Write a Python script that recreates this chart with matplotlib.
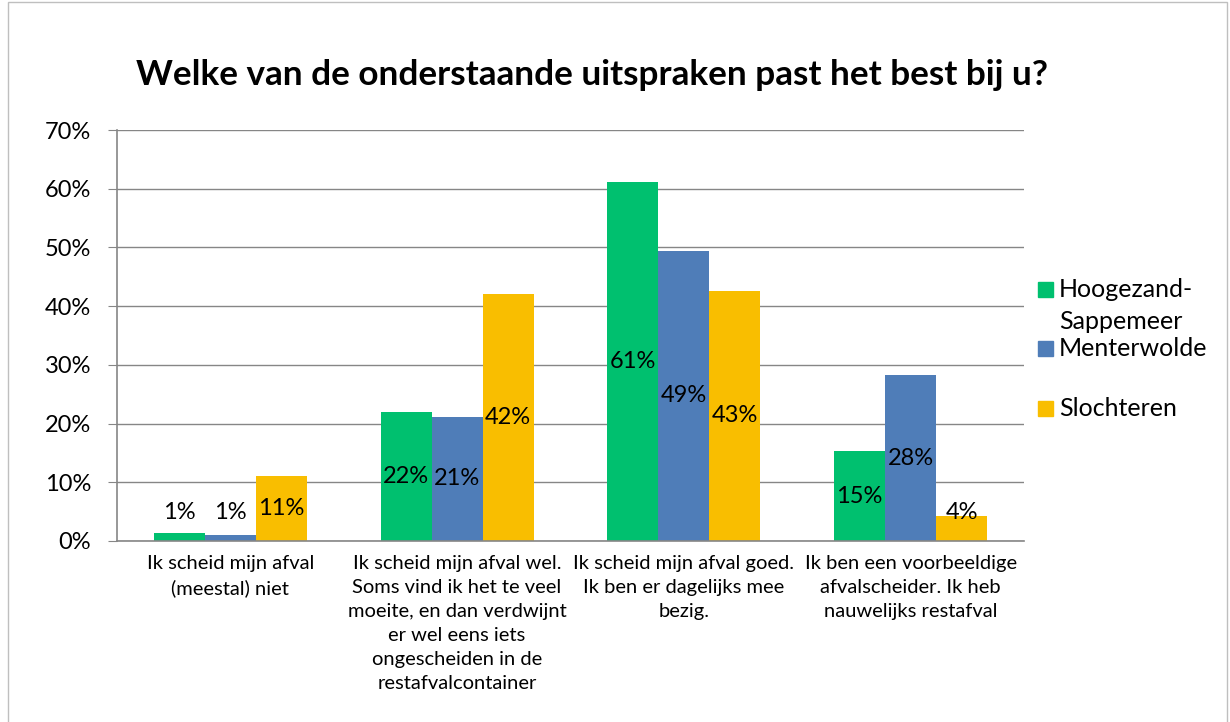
import matplotlib
matplotlib.use('Agg')
import matplotlib.pyplot as plt
import numpy as np
from matplotlib.patches import Rectangle

plt.rcParams['font.family'] = ['Lato', 'DejaVu Sans']

# ---------------------------------------------
# DATA
# ---------------------------------------------
categories = [
    'Ik scheid mijn afval\n(meestal) niet',
    'Ik scheid mijn afval wel.\nSoms vind ik het te veel\nmoeite, en dan verdwijnt\ner wel eens iets\nongescheiden in de\nrestafvalcontainer',
    'Ik scheid mijn afval goed.\nIk ben er dagelijks mee\nbezig.',
    'Ik ben een voorbeeldige\nafvalscheider. Ik heb\nnauwelijks restafval',
]
series_names = ['Hoogezand-\nSappemeer', 'Menterwolde', 'Slochteren']
hoogezand = [1.3, 22.0, 61.2, 15.3]
menterwolde = [1.1, 21.2, 49.4, 28.2]
slochteren = [11.0, 42.0, 42.6, 4.2]
y_ticks = [0, 10, 20, 30, 40, 50, 60, 70]

colors = ['#00C06F', '#4F7DB8', '#F9BE00']
series = [hoogezand, menterwolde, slochteren]

# ---------------------------------------------
# FIGURE
# ---------------------------------------------
fig = plt.figure(figsize=(12.3, 7.22), dpi=100)
ax = fig.add_axes([0.0951, 0.2507, 0.7374, 0.5692])

x = np.arange(len(categories))
w = 0.225
for i, (vals, col) in enumerate(zip(series, colors)):
    xs = x + (i - 1) * w
    ax.bar(xs, vals, width=w, color=col, zorder=3)
    for xi, v in zip(xs, vals):
        # small bars: label sits just above the bar, like Excel does
        ax.text(xi, max(v / 2, 4.8), f'{v:.0f}%', ha='center', va='center',
                fontsize=17, color='black', zorder=4)

ax.set_xlim(-0.5, len(categories) - 0.5)
ax.set_ylim(0, 70)
ax.set_yticks(y_ticks)
ax.set_yticklabels([f'{t}%' for t in y_ticks], fontsize=17)
ax.set_xticks(x)
ax.set_xticklabels(categories, fontsize=14.5, linespacing=1.5, va='top')
ax.tick_params(axis='x', length=0, pad=10)
ax.tick_params(axis='y', length=6.5, color='#868686', pad=12)
ax.grid(axis='y', color='#868686', linewidth=1, zorder=0)
for s in ['top', 'right']:
    ax.spines[s].set_visible(False)
for s in ['left', 'bottom']:
    ax.spines[s].set_color('#868686')
    ax.spines[s].set_linewidth(1.2)
    ax.spines[s].set_zorder(5)

fig.text(0.481, 0.896, 'Welke van de onderstaande uitspraken past het best bij u?',
         ha='center', va='center', fontsize=25.3, fontweight='bold')

# legend drawn by hand (Excel wraps the first entry over two lines)
leg_y = [0.5997, 0.518, 0.4349]
for col, yy in zip(colors, leg_y):
    fig.patches.append(Rectangle((0.8440, yy - 0.0105), 0.0122, 0.0208,
                                 transform=fig.transFigure, color=col))
first, second = series_names[0].split('\n')
fig.text(0.8610, 0.5997, first, ha='left', va='center', fontsize=18)
fig.text(0.8610, 0.5554, second, ha='left', va='center', fontsize=18)
fig.text(0.8610, 0.518, series_names[1], ha='left', va='center', fontsize=18)
fig.text(0.8610, 0.4349, series_names[2], ha='left', va='center', fontsize=18)

fig.patches.append(Rectangle((0.0065, -0.01), 0.991, 1.007, transform=fig.transFigure,
                             fill=False, edgecolor='#BFBFBF', linewidth=1))

fig.savefig('out.png', dpi=100)
